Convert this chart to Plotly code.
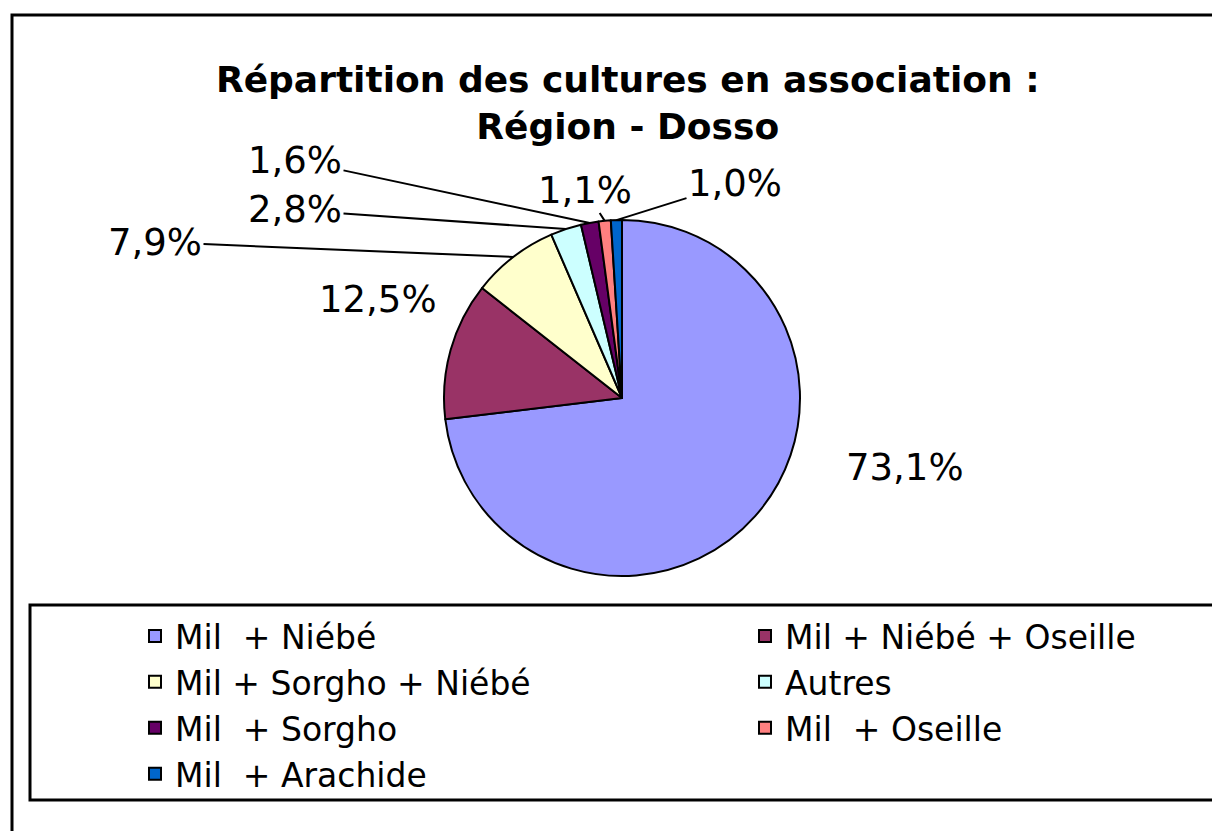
import math
import plotly.graph_objects as go

# ---- data ----
categories = ["Mil  + Niébé", "Mil + Niébé + Oseille", "Mil + Sorgho + Niébé", "Autres",
              "Mil  + Sorgho", "Mil  + Oseille", "Mil  + Arachide"]
values = [73.1, 12.5, 7.9, 2.8, 1.6, 1.1, 1.0]
colors = ["#9999FF", "#993366", "#FFFFCC", "#CCFFFF", "#660066", "#FF8080", "#0066CC"]

# ---- layout constants (pixels, measured in the browser window) ----
W, H = 1220, 831
OFF = 8                              # page body margin of the browser
CX, CY, R = 622, 398, 178            # pie centre / radius on screen
FONT = "DejaVu Sans, Liberation Sans, Arial, sans-serif"


def px2paper(sx, sy):
    return (sx - OFF) / W, 1 - (sy - OFF) / H


# label text centres (screen pixels) and whether a leader line is drawn
label_pos = [(905, 468, False), (378, 300, False), (155, 242, True), (295, 210, True),
             (295, 160, True), (585, 190, True), (735, 183, True)]

dx0, dy1 = px2paper(CX - R, CY - R)
dx1, dy0 = px2paper(CX + R, CY + R)

fig = go.Figure(go.Pie(
    labels=categories,
    values=values,
    sort=False,
    direction="clockwise",
    rotation=0,
    marker=dict(colors=colors, line=dict(color="black", width=2)),
    textinfo="none",
    textposition="none",
    hoverinfo="label+percent",
    domain=dict(x=[dx0, dx1], y=[dy0, dy1]),
))

# percentage labels, leader lines aimed at each slice's mid-angle on the rim
annotations = []
total = sum(values)
cum = 0.0
for v, (lx, ly, lead) in zip(values, label_pos):
    mid = 2 * math.pi * (cum + v / 2) / total
    cum += v
    rx = CX + R * math.sin(mid)
    ry = CY - R * math.cos(mid)
    txt = f"{v / total * 100:.1f}%".replace(".", ",")
    if lead:
        ax_, ay_ = px2paper(rx, ry)
        annotations.append(dict(
            xref="paper", yref="paper", x=ax_, y=ay_,
            ax=lx - rx, ay=ly - ry, axref="pixel", ayref="pixel",
            text=txt, showarrow=True, arrowhead=0, arrowwidth=2, arrowcolor="black",
            standoff=0, startstandoff=0,
            font=dict(family=FONT, size=37, color="black"),
        ))
    else:
        tx, ty = px2paper(lx, ly)
        annotations.append(dict(
            xref="paper", yref="paper", x=tx, y=ty,
            xanchor="center", yanchor="middle",
            text=txt, showarrow=False,
            font=dict(family=FONT, size=37, color="black"),
        ))

fx0, fy1 = px2paper(12, 15)
lx0, ly1 = px2paper(30, 605)
_, ly0 = px2paper(30, 800)
legx, legy = px2paper(135, 608)

fig.update_layout(
    width=W, height=H,
    paper_bgcolor="white",
    plot_bgcolor="white",
    separators=", ",
    margin=dict(l=0, r=0, t=0, b=0, autoexpand=False),
    font=dict(family=FONT, size=33, color="black"),
    title=dict(
        text="<b>Répartition des cultures en association :<br>Région - Dosso</b>",
        x=0.508, xanchor="center", y=1 - 84 / H, yanchor="top",
        font=dict(family=FONT, size=36, color="black"),
    ),
    showlegend=True,
    legend=dict(
        orientation="h",
        x=legx, xanchor="left",
        y=legy, yanchor="top",
        entrywidth=565, entrywidthmode="pixels",
        borderwidth=0,
        bgcolor="rgba(0,0,0,0)",
        font=dict(family=FONT, size=33, color="black"),
        traceorder="normal",
    ),
    annotations=annotations,
    shapes=[
        dict(type="rect", xref="paper", yref="paper",
             x0=fx0, x1=1.02, y0=-0.02, y1=fy1,
             line=dict(color="black", width=3), fillcolor="rgba(0,0,0,0)", layer="below"),
        dict(type="rect", xref="paper", yref="paper",
             x0=lx0, x1=1.02, y0=ly0, y1=ly1,
             line=dict(color="black", width=3), fillcolor="rgba(0,0,0,0)", layer="below"),
    ],
)

fig.write_html("out.html")
